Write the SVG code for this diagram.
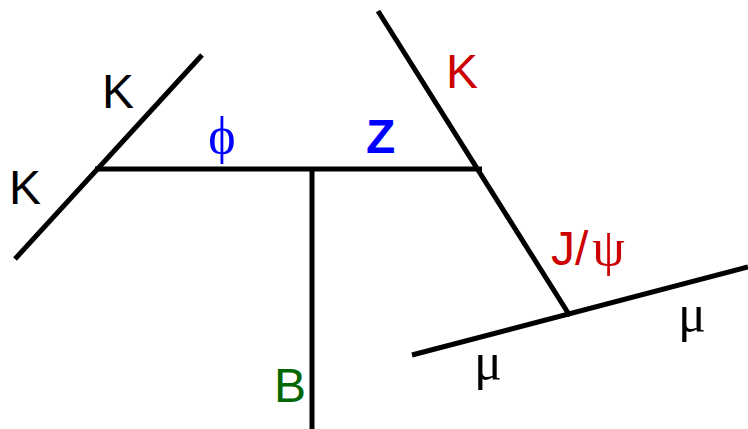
<svg xmlns="http://www.w3.org/2000/svg" width="748" height="429" viewBox="0 0 748 429">
<style>
.ln{stroke:#000;stroke-width:5;fill:none;stroke-linecap:butt}
.s{font-family:"Liberation Sans",Arial,sans-serif;font-size:48px}
.g{font-family:"Liberation Serif","Times New Roman",serif;font-size:52px}
</style>
<rect width="748" height="429" fill="#fff"/>
<g id="connectors">
<line class="ln" x1="15" y1="259" x2="202" y2="55"/>
<line class="ln" x1="95" y1="169" x2="482" y2="169"/>
<line class="ln" x1="312" y1="169" x2="312" y2="429"/>
<line class="ln" x1="378" y1="11" x2="570" y2="316"/>
<line class="ln" x1="412" y1="355" x2="748" y2="267"/>
</g>
<g id="K1"><text class="s" x="102" y="108">K</text></g>
<g id="K2"><text class="s" x="9" y="204">K</text></g>
<g id="phi"><text class="g" x="222" y="153" fill="#0000ff" text-anchor="middle">ϕ</text></g>
<g id="Z"><text class="s" x="366" y="153" fill="#0000ff" font-weight="bold">Z</text></g>
<g id="K3"><text class="s" x="446" y="88" fill="#cc0000">K</text></g>
<g id="Jpsi"><text class="s" x="551" y="265" fill="#cc0000">J/<tspan class="g" dx="4" font-size="56">ψ</tspan></text></g>
<g id="mu1"><text class="g" x="692" y="331" text-anchor="middle">μ</text></g>
<g id="mu2"><text class="g" x="488" y="379" text-anchor="middle">μ</text></g>
<g id="B"><text class="s" x="274" y="402" fill="#006600">B</text></g>
</svg>
